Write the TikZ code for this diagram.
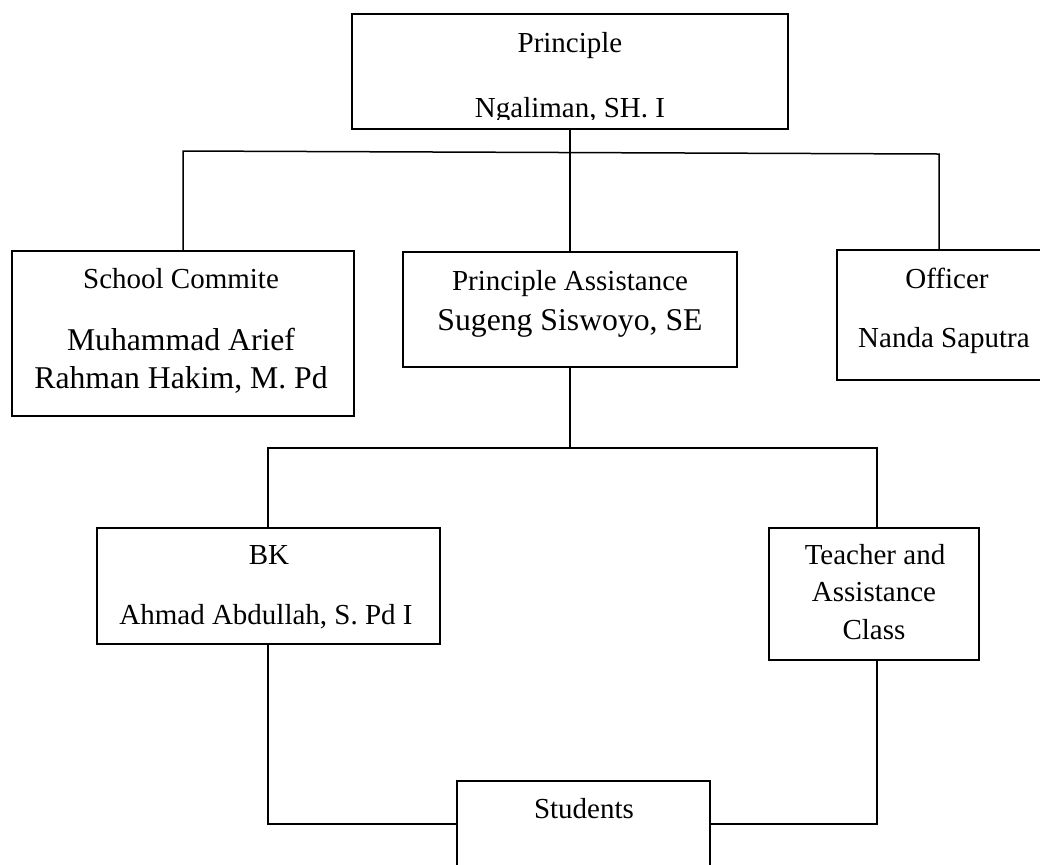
\documentclass[tikz,border=0pt]{standalone}
\usepackage{fontspec}
\setmainfont{Liberation Serif}
\usetikzlibrary{positioning,calc}

\begin{document}
\begin{tikzpicture}[x=0.5pt,y=-0.5pt,line width=0.75pt,
   every node/.style={inner sep=0pt},
   orgbox/.style={draw,rectangle},
   lbl/.style={anchor=base,font=\fontsize{14.5}{17}\selectfont},
   biglbl/.style={anchor=base,font=\fontsize{15.85}{19}\selectfont}]
  \useasboundingbox (0,0) rectangle (1040,864);

  % boxes
  \node[orgbox,minimum width=218pt,minimum height=57.5pt] (principle) at (570,71.5) {};
  \node[orgbox,minimum width=171pt,minimum height=82.5pt] (commite) at (183,333.5) {};
  \node[orgbox,minimum width=167pt,minimum height=57.5pt] (pa) at (570,309.5) {};
  \node[orgbox,minimum width=109pt,minimum height=65pt] (officer) at (946,315) {};
  \node[orgbox,minimum width=171.5pt,minimum height=58pt] (bk) at (268.5,586) {};
  \node[orgbox,minimum width=105pt,minimum height=66pt] (teacher) at (874,594) {};
  \node[orgbox,minimum width=126.5pt,minimum height=43pt] (students) at (583.5,824) {};

  % texts
  \node[lbl] (principle-t) at (570,52) {Principle};
  \begin{scope}
    \clip (352,14) rectangle (788,119);
    \node[lbl] (principle-n) at (570,117) {Ngaliman, SH. I};
  \end{scope}
  \node[lbl] (commite-t) at (181,288) {School Commite};
  \node[biglbl] (commite-n1) at (181,350) {Muhammad Arief};
  \node[biglbl] (commite-n2) at (181,388) {Rahman Hakim, M. Pd};
  \node[lbl] (pa-t) at (570,290) {Principle Assistance};
  \node[biglbl] (pa-n) at (570,330) {Sugeng Siswoyo, SE};
  \node[lbl] (officer-t) at (947,288) {Officer};
  \node[lbl] (officer-n) at (944,347) {Nanda Saputra};
  \node[lbl] (bk-t) at (269,564) {BK};
  \node[lbl] (bk-n) at (266,624) {Ahmad Abdullah, S. Pd I};
  \node[lbl] (teacher-t1) at (875,564) {Teacher and};
  \node[lbl] (teacher-t2) at (874,601) {Assistance};
  \node[lbl] (teacher-t3) at (874,639) {Class};
  \node[lbl] (students-t) at (584,818) {Students};

  % connectors
  \coordinate (topL) at (183,151);
  \coordinate (topR) at (939,154);
  \coordinate (midL) at (268,448);
  \coordinate (midR) at (877,448);

  \draw (principle.south) -- (pa.north);
  \draw (commite.north) -- (topL) -- (topR) -- (topR |- officer.north);
  \draw (pa.south) -- (pa.south |- midL);
  \draw (bk.north -| midL) -- (midL) -- (midR) -- (midR |- teacher.north);
  \draw (bk.south -| midL) |- (students.west);
  \draw (teacher.south -| midR) |- (students.east);
\end{tikzpicture}
\end{document}
